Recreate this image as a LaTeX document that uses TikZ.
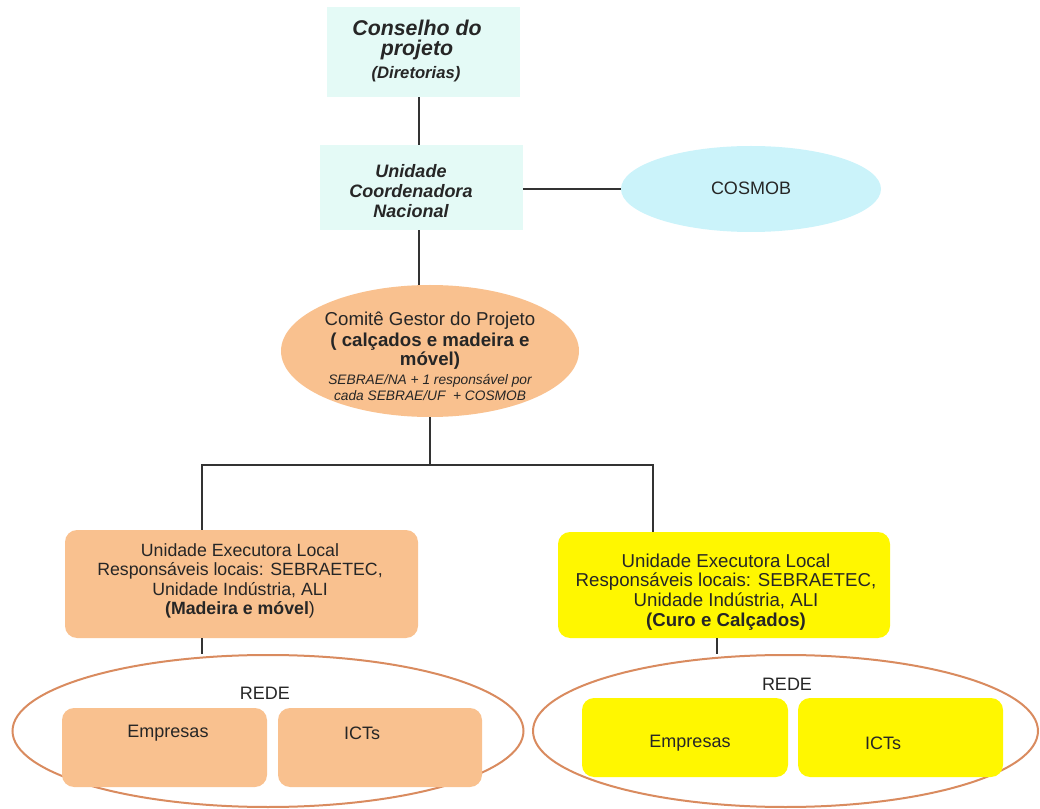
\documentclass[tikz,border=0pt]{standalone}
\usepackage{fontspec}
\setmainfont{Liberation Sans}
\usetikzlibrary{shapes.geometric}
\definecolor{cyanbox}{HTML}{E4FAF6}
\definecolor{cosmob}{HTML}{CBF3FA}
\definecolor{peach}{HTML}{F9C18F}
\definecolor{yel}{HTML}{FFF700}
\definecolor{ringc}{HTML}{D98B5F}
\definecolor{linec}{HTML}{333333}
\tikzset{
  cbox/.style={fill=cyanbox, draw=none, align=center, inner sep=0pt},
  ubox/.style={draw=none, rounded corners=9pt, align=center, inner sep=0pt},
  ring/.style={draw=ringc, line width=1.5pt, ellipse, inner sep=0pt},
  conn/.style={draw=linec, line width=1.1pt},
  txt/.style={align=center, inner sep=0pt, text=black!85},
  small/.style={font=\fontsize{13.5}{15}\selectfont},
}
\begin{document}
\begin{tikzpicture}[x=0.75pt,y=-0.75pt]
\useasboundingbox (0,0) rectangle (1040,809);
% top boxes
\node[cbox, minimum width=193*0.75pt, minimum height=90*0.75pt] (cons) at (423.5,52) {};
\node[txt, font=\bfseries\itshape\fontsize{16}{15.5}\selectfont] at (417,40) {Conselho do\\projeto};
\node[txt, font=\bfseries\itshape\fontsize{12.5}{15}\selectfont] at (416,74) {(Diretorias)};
\node[cbox, minimum width=203*0.75pt, minimum height=85*0.75pt] (ucn) at (421.5,187.5) {};
\node[txt, font=\bfseries\itshape\fontsize{13.5}{15}\selectfont] at (411,191) {Unidade\\Coordenadora\\Nacional};
\node[ellipse, fill=cosmob, minimum width=260*0.75pt, minimum height=86*0.75pt, inner sep=0pt] (cosmob) at (751,189) {};
\node[txt, font=\fontsize{13.5}{15}\selectfont] at (751,188) {COSMOB};
\draw[conn] (cons.south -| 419,0) -- (ucn.north -| 419,0);
\draw[conn] (ucn.east |- cosmob.west) -- (cosmob.west);
% comite
\node[ellipse, fill=peach, minimum width=298*0.75pt, minimum height=132*0.75pt, inner sep=0pt] (com) at (430,351) {};
\node[txt, font=\fontsize{14}{16}\selectfont] at (430,321) {Comitê Gestor do Projeto};
\node[txt, font=\bfseries\fontsize{14}{14}\selectfont] at (430,351) {( calçados e madeira e\\móvel)};
\node[txt, font=\itshape\fontsize{10.3}{12}\selectfont] at (430,388) {SEBRAE/NA + 1 responsável por\\cada SEBRAE/UF\ \ + COSMOB};
\draw[conn] (ucn.south -| 419,0) -- (com.north -| 419,0);
% local units
\node[ubox, fill=peach, minimum width=353*0.75pt, minimum height=108*0.75pt] (uel) at (241.5,584) {};
\node[txt, font=\fontsize{13.3}{14.6}\selectfont] at (240,581) {Unidade Executora Local\\Responsáveis locais: SEBRAETEC,\\Unidade Indústria, ALI\\\textbf{(Madeira e móvel})};
\node[ubox, fill=yel, minimum width=332*0.75pt, minimum height=106*0.75pt] (uer) at (724,585) {};
\node[txt, font=\fontsize{14}{14.8}\selectfont] at (726,592) {Unidade Executora Local\\Responsáveis locais: SEBRAETEC,\\Unidade Indústria, ALI\\\textbf{(Curo e Calçados)}};
\coordinate (split) at (430,465);
\coordinate (lx) at (202,465);
\coordinate (rx) at (653,465);
\draw[conn] (com.south) -- (split);
\draw[conn] (lx |- uel.north) -- (lx) -- (rx) -- (rx |- uer.north);
% networks
\node[ring, minimum width=511*0.75pt, minimum height=152*0.75pt] (rl) at (268,731) {};
\node[ring, minimum width=505*0.75pt, minimum height=152*0.75pt] (rr) at (785.5,731) {};
\draw[conn] (lx |- uel.south) -- (lx |- rl.north);
\coordinate (ua) at (717,600);
\draw[conn] (ua |- uer.south) -- (ua |- rr.north);
\node[txt, small] (redel) at (265,693) {REDE};
\node[txt, small] (reder) at (787,684) {REDE};
\node[ubox, fill=peach, minimum width=205*0.75pt, minimum height=79*0.75pt] (el) at (164.5,747.5) {};
\node[txt, small] at (168,733) {Empresas};
\node[ubox, fill=peach, minimum width=204*0.75pt, minimum height=79*0.75pt] (il) at (380,747.5) {};
\node[txt, small] at (362,733) {ICTs};
\node[ubox, fill=yel, minimum width=206*0.75pt, minimum height=79*0.75pt] (er) at (685,737.5) {};
\node[txt, small] at (690,743) {Empresas};
\node[ubox, fill=yel, minimum width=205*0.75pt, minimum height=79*0.75pt] (ir) at (900.5,737.5) {};
\node[txt, small] at (883,743) {ICTs};
\end{tikzpicture}
\end{document}
